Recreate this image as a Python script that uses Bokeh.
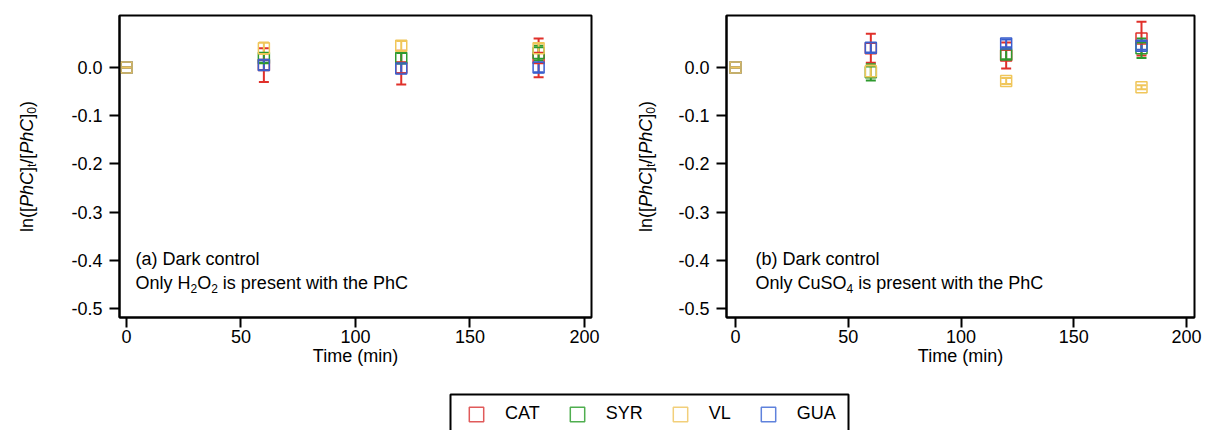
import math
from bokeh.plotting import figure
from bokeh.models import (ColumnDataSource, Whisker, TeeHead, Label, Legend, LegendItem,
                          FixedTicker, Range1d, BoxAnnotation, PrintfTickFormatter)
from bokeh.layouts import column, row
from bokeh.embed import file_html
from bokeh.resources import INLINE

# ---------------- data ----------------
time_min = [0, 60, 120, 180]
series_names = ["CAT", "SYR", "VL", "GUA"]
series_colors = ["#e0302a", "#2e9a2e", "#f0c65a", "#3a5fcd"]
legend_colors = ["#e05a5a", "#4fae4f", "#f2cf7a", "#5f82dc"]

# panel (a): only H2O2
a_CAT = [0.0, 0.005, 0.0, 0.02]
a_CAT_err = [0.0, 0.035, 0.035, 0.04]
a_SYR = [0.0, 0.02, 0.02, 0.03]
a_SYR_err = [0.0, 0.01, 0.01, 0.015]
a_VL = [0.0, 0.04, 0.045, 0.04]
a_VL_err = [0.0, 0.012, 0.01, 0.01]
a_GUA = [0.0, 0.005, -0.002, 0.0]
a_GUA_err = [0.0, 0.01, 0.01, 0.01]

# panel (b): only CuSO4
b_CAT = [0.0, 0.04, 0.025, 0.06]
b_CAT_err = [0.0, 0.03, 0.027, 0.035]
b_SYR = [0.0, -0.01, 0.027, 0.04]
b_SYR_err = [0.0, 0.017, 0.01, 0.02]
b_VL = [0.0, -0.008, -0.028, -0.041]
b_VL_err = [0.0, 0.012, 0.006, 0.004]
b_GUA = [0.0, 0.041, 0.05, 0.045]
b_GUA_err = [0.0, 0.01, 0.008, 0.008]

x_ticks = [0, 50, 100, 150, 200]
y_ticks = [-0.5, -0.4, -0.3, -0.2, -0.1, 0.0]

FONT = "Liberation Sans"
FS = 18
SUB_FS = 12
FRAME_TOP = 15
FRAME_BOTTOM_BORDER = 73
PANEL_H = 390

ARIAL = {" ": 278, "(": 333, ")": 333, "[": 278, "]": 278, "/": 278, "a": 556, "b": 556,
         "c": 500, "D": 722, "r": 333, "k": 500, "o": 556, "n": 556, "t": 278, "l": 222,
         "O": 778, "y": 500, "H": 722, "i": 222, "s": 500, "p": 556, "e": 556, "w": 722,
         "h": 556, "P": 667, "C": 722, "u": 556, "S": 667, "0": 556, "2": 556, "4": 556}


def tw(s, size):
    return sum(ARIAL.get(ch, 556) for ch in s) * size / 1000.0


def ylabel_fig(width, baseline_px):
    top = FRAME_TOP
    bot = PANEL_H - FRAME_BOTTOM_BORDER
    f = figure(width=width, height=PANEL_H, x_range=Range1d(0, width),
               y_range=Range1d(bot, top),
               output_backend="svg", toolbar_location=None,
               min_border_left=0, min_border_right=0,
               min_border_top=top, min_border_bottom=FRAME_BOTTOM_BORDER,
               x_axis_location=None, y_axis_location=None)
    f.xgrid.visible = False
    f.ygrid.visible = False
    f.outline_line_color = None
    # ln([PhC]t/[PhC]0)
    pieces = [("ln([", False, False), ("PhC", True, False), ("]", False, False),
              ("t", False, True), ("/[", False, False), ("PhC", True, False),
              ("]", False, False), ("0", False, True), (")", False, False)]
    total = sum(tw(t, SUB_FS if s else FS) for t, it, s in pieces)
    cy = (top + bot) / 2 + total / 2
    for txt, ital, sub in pieces:
        size = SUB_FS if sub else FS
        bx = baseline_px + (5 if sub else 0)
        f.add_layout(Label(x=bx, y=cy, text=txt, angle=math.pi / 2,
                           text_font=FONT, text_font_size=f"{size}px",
                           text_font_style="italic" if ital else "normal",
                           text_baseline="alphabetic", text_align="left", text_color="black"))
        cy -= tw(txt, size)
    return f


def make_panel(width, fl, fr, xr, yr, data, letter, reagent_pieces):
    ft, fb = FRAME_TOP, FRAME_BOTTOM_BORDER
    p = figure(width=width, height=PANEL_H, x_range=Range1d(*xr), y_range=Range1d(*yr),
               output_backend="svg", toolbar_location=None,
               min_border_left=fl, min_border_right=fr, min_border_top=ft, min_border_bottom=fb)
    fw = width - fl - fr
    fh = PANEL_H - ft - fb

    def X(px):
        return xr[0] + (px - fl) * (xr[1] - xr[0]) / fw

    def Y(py):
        return yr[1] - (py - ft) * (yr[1] - yr[0]) / fh

    p.xgrid.visible = False
    p.ygrid.visible = False
    p.outline_line_color = "black"
    p.outline_line_width = 2
    p.outline_line_alpha = 1
    p.background_fill_color = "white"
    p.border_fill_color = "white"

    for ax in (p.xaxis[0], p.yaxis[0]):
        ax.axis_line_color = "black"
        ax.axis_line_width = 2
        ax.major_tick_line_color = "black"
        ax.major_tick_line_width = 2
        ax.major_tick_out = 10
        ax.major_tick_in = 0
        ax.minor_tick_line_color = None
        ax.major_label_text_font = FONT
        ax.major_label_text_font_size = f"{FS}px"
        ax.major_label_text_color = "black"
        ax.axis_label_text_font = FONT
        ax.axis_label_text_font_size = f"{FS}px"
        ax.axis_label_text_font_style = "normal"
        ax.axis_label_text_color = "black"

    p.xaxis.ticker = FixedTicker(ticks=x_ticks)
    p.yaxis.ticker = FixedTicker(ticks=y_ticks)
    p.yaxis.formatter = PrintfTickFormatter(format="%.1f")
    p.xaxis.major_label_standoff = 2
    p.yaxis.major_label_standoff = 7
    p.xaxis.axis_label = "Time (min)"
    p.xaxis.axis_label_standoff = 0

    order = [0, 1, 3, 2]
    for i in order:
        vals, errs = data[i]
        c = series_colors[i]
        src = ColumnDataSource(dict(x=time_min, y=vals,
                                    lower=[v - e for v, e in zip(vals, errs)],
                                    upper=[v + e for v, e in zip(vals, errs)]))
        p.scatter("x", "y", source=src, marker="square", size=11, fill_color=None,
                  line_color=c, line_width=1.5)
        w = Whisker(source=src, base="x", upper="upper", lower="lower",
                    line_color=c, line_width=2,
                    upper_head=TeeHead(size=10, line_color=c, line_width=2),
                    lower_head=TeeHead(size=10, line_color=c, line_width=2))
        p.add_layout(w)

    ax0 = letter[1]
    p.add_layout(Label(x=X(ax0), y=Y(258), text=letter[0], text_font=FONT,
                       text_font_size=f"{FS}px", text_baseline="middle", text_align="left",
                       text_color="black"))
    cx = ax0
    for txt, sub in reagent_pieces:
        size = SUB_FS if sub else FS
        yy = Y(282 + (6 if sub else 0))
        lead = tw(" ", size) if txt.startswith(" ") else 0
        p.add_layout(Label(x=X(cx + lead), y=yy, text=txt.strip(), text_font=FONT,
                           text_font_size=f"{size}px", text_baseline="middle",
                           text_align="left", text_color="black"))
        cx += tw(txt, size)
    return p


ya = ylabel_fig(60, 26)
pa = make_panel(545, 59, 14, (-3.06, 203.1), (-0.519, 0.108),
                [(a_CAT, a_CAT_err), (a_SYR, a_SYR_err), (a_VL, a_VL_err), (a_GUA, a_GUA_err)],
                ("(a) Dark control", 75),
                [("Only H", False), ("2", True), ("O", False), ("2", True),
                 (" is present with the PhC", False)])
yb = ylabel_fig(60, 40)
pb = make_panel(544, 61, 15, (-3.99, 203.5), (-0.519, 0.108),
                [(b_CAT, b_CAT_err), (b_SYR, b_SYR_err), (b_VL, b_VL_err), (b_GUA, b_GUA_err)],
                ("(b) Dark control", 90),
                [("Only CuSO", False), ("4", True), (" is present with the PhC", False)])

# legend strip
pl = figure(width=1209, height=40, x_range=Range1d(0, 1209), y_range=Range1d(0, 40),
            output_backend="svg", toolbar_location=None, min_border=0,
            x_axis_location=None, y_axis_location=None)
pl.xgrid.visible = False
pl.ygrid.visible = False
pl.outline_line_color = None
items = []
for name, c in zip(series_names, legend_colors):
    # placeholder glyph kept outside the visible range; only its legend swatch is shown
    r = pl.quad(left=[-50], right=[-40], top=[-40], bottom=[-50], fill_color=None,
                line_color=c, line_width=1.5, line_alpha=1.0)
    items.append(LegendItem(label=name, renderers=[r]))
leg = Legend(items=items, orientation="horizontal", location=(467, 6),
             border_line_color=None, background_fill_alpha=0,
             glyph_width=18, glyph_height=18, label_standoff=20, spacing=28, padding=5,
             label_text_font=FONT, label_text_font_size=f"{FS}px", label_text_color="black")
pl.add_layout(leg, "center")
pl.add_layout(BoxAnnotation(left=450, right=848, top=36, bottom=-20, fill_alpha=0,
                            line_color="black", line_width=2, line_alpha=1))

layout = column(row(ya, pa, yb, pb), pl)
open("out.html", "w").write(file_html(layout, INLINE))
